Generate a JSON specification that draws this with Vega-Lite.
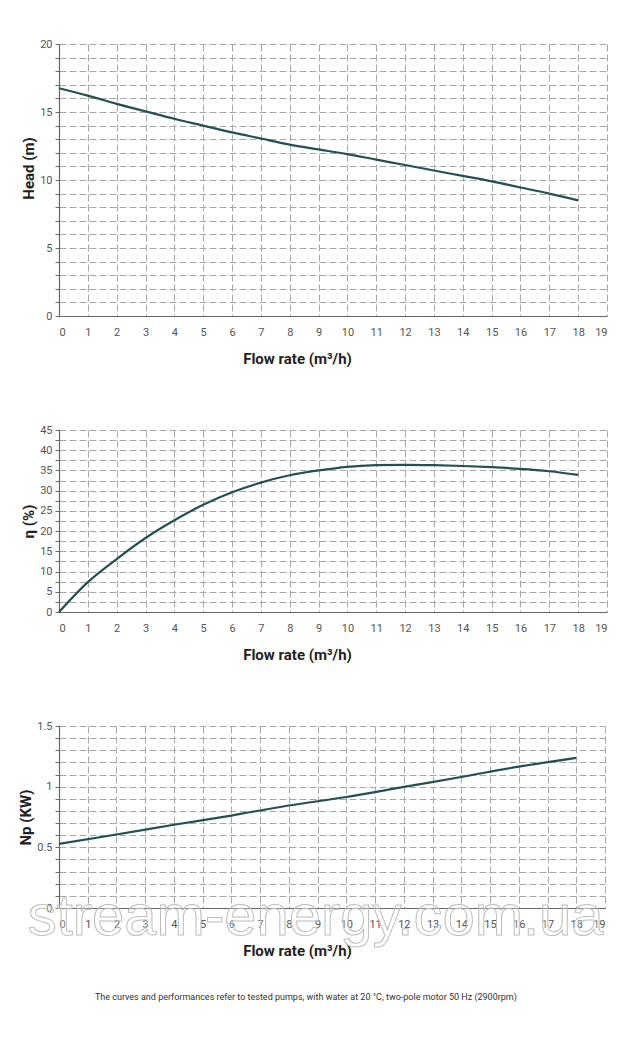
{
  "$schema": "https://vega.github.io/schema/vega-lite/v6.json",
  "background": "white",
  "padding": {"left": 18, "top": 38, "right": 10, "bottom": 30},
  "bounds": "flush",
  "spacing": 114,
  "datasets": {
    "head": [
      {"q": 0, "h": 16.75}, {"q": 1, "h": 16.2}, {"q": 2, "h": 15.6}, {"q": 3, "h": 15.05},
      {"q": 4, "h": 14.5}, {"q": 5, "h": 14.0}, {"q": 6, "h": 13.5}, {"q": 7, "h": 13.05},
      {"q": 8, "h": 12.6}, {"q": 9, "h": 12.25}, {"q": 10, "h": 11.9}, {"q": 11, "h": 11.5},
      {"q": 12, "h": 11.1}, {"q": 13, "h": 10.7}, {"q": 14, "h": 10.3}, {"q": 15, "h": 9.9},
      {"q": 16, "h": 9.45}, {"q": 17, "h": 9.0}, {"q": 18, "h": 8.5}
    ],
    "eff": [
      {"q": 0, "e": 0}, {"q": 1, "e": 7.4}, {"q": 2, "e": 13.1}, {"q": 3, "e": 18.3},
      {"q": 4, "e": 22.7}, {"q": 5, "e": 26.5}, {"q": 6, "e": 29.6}, {"q": 7, "e": 32.0},
      {"q": 8, "e": 33.8}, {"q": 9, "e": 35.0}, {"q": 10, "e": 35.9}, {"q": 11, "e": 36.3},
      {"q": 12, "e": 36.4}, {"q": 13, "e": 36.3}, {"q": 14, "e": 36.1}, {"q": 15, "e": 35.8},
      {"q": 16, "e": 35.4}, {"q": 17, "e": 34.8}, {"q": 18, "e": 33.9}
    ],
    "power": [
      {"q": 0, "p": 0.529}, {"q": 2, "p": 0.606}, {"q": 4, "p": 0.686}, {"q": 6, "p": 0.762},
      {"q": 8, "p": 0.845}, {"q": 10, "p": 0.915}, {"q": 12, "p": 0.998}, {"q": 14, "p": 1.08},
      {"q": 16, "p": 1.165}, {"q": 18, "p": 1.238}
    ],
    "mark": [{"label": "stream-energy.com.ua"}]
  },
  "title": {
    "text": "The curves and performances refer to tested pumps, with water at 20 °C, two-pole motor 50 Hz (2900rpm)",
    "orient": "bottom",
    "anchor": "middle",
    "font": "Roboto",
    "fontSize": 9,
    "fontWeight": "normal",
    "color": "#333333",
    "offset": 35,
    "dx": -7
  },
  "config": {
    "view": {"stroke": null},
    "axis": {
      "grid": true,
      "gridDash": [7, 3],
      "gridColor": "#a8a8a8",
      "gridWidth": 1,
      "domainColor": "#666666",
      "domainWidth": 1.2,
      "tickColor": "#666666",
      "labelColor": "#555555",
      "labelFont": "Roboto",
      "labelFontSize": 11,
      "titleFont": "Roboto",
      "titleFontSize": 15,
      "titleFontWeight": "bold",
      "titleColor": "#222222"
    },
    "axisX": {"ticks": false, "labelPadding": 10, "titlePadding": 14, "titleX": 238, "titleAnchor": "middle"},
    "axisY": {"tickSize": 4, "labelPadding": 3, "titlePadding": 3}
  },
  "vconcat": [
    {
      "width": 548,
      "height": 272,
      "data": {"name": "head"},
      "mark": {"type": "line", "color": "#24514f", "strokeWidth": 2.2, "interpolate": "monotone"},
      "encoding": {
        "x": {
          "field": "q", "type": "quantitative",
          "scale": {"domain": [0, 19], "nice": false},
          "axis": {"values": [0,1,2,3,4,5,6,7,8,9,10,11,12,13,14,15,16,17,18,19], "title": "Flow rate (m³/h)"}
        },
        "y": {
          "field": "h", "type": "quantitative",
          "scale": {"domain": [0, 20], "nice": false},
          "axis": {
            "values": [0,1,2,3,4,5,6,7,8,9,10,11,12,13,14,15,16,17,18,19,20],
            "labelExpr": "datum.value % 5 === 0 ? datum.label : ''",
            "title": "Head (m)",
            "titleY": 124
          }
        }
      }
    },
    {
      "width": 548,
      "height": 182,
      "data": {"name": "eff"},
      "mark": {"type": "line", "color": "#24514f", "strokeWidth": 2.2, "interpolate": "monotone"},
      "encoding": {
        "x": {
          "field": "q", "type": "quantitative",
          "scale": {"domain": [0, 19], "nice": false},
          "axis": {"values": [0,1,2,3,4,5,6,7,8,9,10,11,12,13,14,15,16,17,18,19], "title": "Flow rate (m³/h)"}
        },
        "y": {
          "field": "e", "type": "quantitative",
          "scale": {"domain": [0, 45], "nice": false},
          "axis": {
            "values": [0,2.5,5,7.5,10,12.5,15,17.5,20,22.5,25,27.5,30,32.5,35,37.5,40,42.5,45],
            "labelExpr": "datum.value % 5 === 0 ? format(datum.value, 'd') : ''",
            "title": "η (%)"
          }
        }
      }
    },
    {
      "width": 546,
      "height": 182,
      "layer": [
        {
          "data": {"name": "power"},
          "mark": {"type": "line", "color": "#24514f", "strokeWidth": 2.2, "interpolate": "monotone"},
          "encoding": {
            "x": {
              "field": "q", "type": "quantitative",
              "scale": {"domain": [0, 19], "nice": false},
              "axis": {"values": [0,1,2,3,4,5,6,7,8,9,10,11,12,13,14,15,16,17,18,19], "title": "Flow rate (m³/h)"}
            },
            "y": {
              "field": "p", "type": "quantitative",
              "scale": {"domain": [0, 1.5], "nice": false},
              "axis": {
                "values": [0,0.1,0.2,0.3,0.4,0.5,0.6,0.7,0.8,0.9,1,1.1,1.2,1.3,1.4,1.5],
                "labelExpr": "abs(datum.value * 2 - round(datum.value * 2)) < 0.000001 ? format(datum.value, '~g') : ''",
                "title": "Np (KW)"
              }
            }
          }
        },
        {
          "data": {"name": "mark"},
          "mark": {
            "type": "text", "font": "Liberation Sans", "fontSize": 58,
            "align": "center", "baseline": "alphabetic",
            "fill": "#ffffff", "fillOpacity": 0.25, "stroke": "#bdbdbd", "strokeWidth": 1
          },
          "encoding": {
            "x": {
              "datum": 8.93, "type": "quantitative",
              "axis": {"values": [0,1,2,3,4,5,6,7,8,9,10,11,12,13,14,15,16,17,18,19], "title": "Flow rate (m³/h)"}
            },
            "y": {
              "datum": -0.22, "type": "quantitative",
              "axis": {
                "values": [0,0.1,0.2,0.3,0.4,0.5,0.6,0.7,0.8,0.9,1,1.1,1.2,1.3,1.4,1.5],
                "labelExpr": "abs(datum.value * 2 - round(datum.value * 2)) < 0.000001 ? format(datum.value, '~g') : ''",
                "title": "Np (KW)"
              }
            },
            "text": {"field": "label"}
          }
        }
      ]
    }
  ]
}
